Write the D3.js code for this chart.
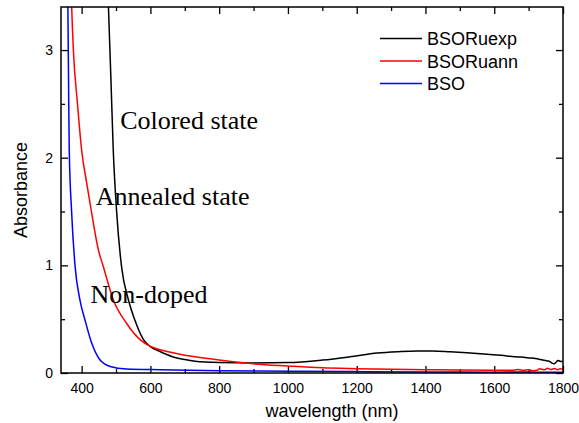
<!DOCTYPE html>
<html>
<head>
<meta charset="utf-8">
<script src="https://cdn.jsdelivr.net/npm/d3@7"></script>
<style>
  body { margin: 0; background: #fff; }
  svg { display: block; }
</style>
</head>
<body>
<svg id="chart" width="579" height="423"></svg>
<script>
// Absorbance spectra: coloured, annealed and non-doped BSO crystals

// series (wavelength nm, absorbance)
const bsoRuExp = [
  [466, 4.6], [478, 3.4], [485, 2.75], [492, 2.07], [502, 1.49], [516, 0.99],
  [536, 0.68], [555, 0.49], [580, 0.31], [600, 0.245], [628, 0.2], [662, 0.154],
  [700, 0.125], [730, 0.11], [800, 0.098], [900, 0.094], [1000, 0.097],
  [1100, 0.12], [1180, 0.15], [1260, 0.185], [1320, 0.198], [1375, 0.205],
  [1420, 0.204], [1470, 0.197], [1520, 0.188], [1570, 0.176], [1620, 0.165],
  [1660, 0.15], [1680, 0.148], [1700, 0.14], [1715, 0.138], [1730, 0.128],
  [1745, 0.118], [1755, 0.112], [1762, 0.105], [1768, 0.092], [1774, 0.085],
  [1780, 0.1], [1785, 0.117], [1790, 0.112], [1795, 0.106], [1800, 0.112]
];
const bsoRuAnn = [
  [362, 4.6], [371, 3.4], [376, 3.0], [388, 2.5], [400, 2.07], [415, 1.76],
  [429, 1.49], [449, 1.14], [463, 0.99], [492, 0.68], [531, 0.46], [570, 0.31],
  [600, 0.247], [628, 0.216], [662, 0.19], [700, 0.165], [730, 0.15],
  [800, 0.12], [900, 0.085], [1000, 0.065], [1100, 0.048], [1200, 0.04],
  [1300, 0.034], [1400, 0.031], [1500, 0.028], [1600, 0.026], [1650, 0.025],
  [1670, 0.032], [1685, 0.024], [1700, 0.03], [1712, 0.022], [1725, 0.026],
  [1732, 0.04], [1745, 0.03], [1755, 0.044], [1765, 0.032], [1775, 0.042],
  [1785, 0.03], [1792, 0.04], [1800, 0.035]
];
const bso = [
  [355, 4.6], [360, 3.4], [362, 2.7], [364, 2.07], [371, 1.49], [381, 0.99],
  [395, 0.68], [410, 0.49], [429, 0.28], [453, 0.123], [483, 0.061],
  [531, 0.037], [628, 0.03], [800, 0.022], [1000, 0.017], [1200, 0.013],
  [1400, 0.01], [1600, 0.008], [1700, 0.01], [1750, 0.006], [1800, 0.006]
];

const seriesNames = ["BSORuexp", "BSORuann", "BSO"];
const seriesData = [bsoRuExp, bsoRuAnn, bso];
const seriesColors = ["#000000", "#ff0000", "#0000ff"];

const xMajor = [400, 600, 800, 1000, 1200, 1400, 1600, 1800];
const xMinor = [500, 700, 900, 1100, 1300, 1500, 1700];
const yMajor = [0, 1, 2, 3];
const yMinor = [0.5, 1.5, 2.5];

const notes = [
  {text: "Colored state", x: 512, y: 2.27},
  {text: "Annealed state", x: 441, y: 1.56},
  {text: "Non-doped", x: 426, y: 0.65}
];

const margin = {top: 7, right: 16, bottom: 50, left: 61};
const width = 579 - margin.left - margin.right;
const height = 423 - margin.top - margin.bottom;

const svg = d3.select("#chart");
const g = svg.append("g").attr("transform", `translate(${margin.left},${margin.top})`);

const x = d3.scaleLinear().domain([340, 1800]).range([0, width]);
const y = d3.scaleLinear().domain([0, 3.4]).range([height, 0]);

g.append("clipPath").attr("id", "plot-clip")
  .append("rect").attr("width", width).attr("height", height);

// axes (ticks pointing inward)
function styleAxis(sel) {
  sel.select(".domain").remove();
  sel.selectAll("line").attr("stroke", "#000").attr("stroke-width", 1.3);
  sel.selectAll("text").attr("font-family", "Liberation Sans, Arial, sans-serif")
    .attr("font-size", 14).attr("fill", "#000");
}

g.append("g").attr("transform", `translate(0,${height})`)
  .call(d3.axisBottom(x).tickValues(xMajor).tickSize(-7).tickPadding(10).tickFormat(d3.format("d")))
  .call(styleAxis);
g.append("g").attr("transform", `translate(0,${height})`)
  .call(d3.axisBottom(x).tickValues(xMinor).tickSize(-4).tickFormat(""))
  .call(styleAxis);
g.append("g")
  .call(d3.axisTop(x).tickValues(xMajor).tickSize(-7).tickFormat(""))
  .call(styleAxis);
g.append("g")
  .call(d3.axisTop(x).tickValues(xMinor).tickSize(-4).tickFormat(""))
  .call(styleAxis);

g.append("g")
  .call(d3.axisLeft(y).tickValues(yMajor).tickSize(-7).tickPadding(8).tickFormat(d3.format("d")))
  .call(styleAxis);
g.append("g")
  .call(d3.axisLeft(y).tickValues(yMinor).tickSize(-4).tickFormat(""))
  .call(styleAxis);
g.append("g").attr("transform", `translate(${width},0)`)
  .call(d3.axisRight(y).tickValues(yMajor).tickSize(-7).tickFormat(""))
  .call(styleAxis);
g.append("g").attr("transform", `translate(${width},0)`)
  .call(d3.axisRight(y).tickValues(yMinor).tickSize(-4).tickFormat(""))
  .call(styleAxis);

// curves
const line = d3.line()
  .x(d => x(d[0]))
  .y(d => y(d[1]))
  .curve(d3.curveMonotoneX);

g.append("g").attr("clip-path", "url(#plot-clip)")
  .selectAll("path")
  .data(seriesData)
  .join("path")
  .attr("d", line)
  .attr("fill", "none")
  .attr("stroke", (d, i) => seriesColors[i])
  .attr("stroke-width", 1.5);

// frame
g.append("rect")
  .attr("width", width).attr("height", height)
  .attr("fill", "none").attr("stroke", "#000").attr("stroke-width", 1.5);

// annotations
g.selectAll(".note")
  .data(notes)
  .join("text")
  .attr("class", "note")
  .attr("x", d => x(d.x))
  .attr("y", d => y(d.y))
  .attr("font-family", "Liberation Serif, Times New Roman, serif")
  .attr("font-size", 26)
  .text(d => d.text);

// axis titles
svg.append("text")
  .attr("transform", `translate(27,${margin.top + height / 2}) rotate(-90)`)
  .attr("text-anchor", "middle")
  .attr("font-family", "Liberation Sans, Arial, sans-serif")
  .attr("font-size", 18)
  .text("Absorbance");

svg.append("text")
  .attr("x", 332)
  .attr("y", 417)
  .attr("text-anchor", "middle")
  .attr("font-family", "Liberation Sans, Arial, sans-serif")
  .attr("font-size", 18)
  .text("wavelength (nm)");

// legend
const legendG = svg.append("g").attr("transform", "translate(380,38.5)");
const lg = legendG.selectAll(".lg")
  .data(seriesNames)
  .join("g")
  .attr("class", "lg")
  .attr("transform", (d, i) => `translate(0,${i * 22.5})`);
lg.append("line")
  .attr("x1", 0).attr("x2", 42)
  .attr("stroke", (d, i) => seriesColors[i]).attr("stroke-width", 1.5);
lg.append("text")
  .attr("x", 47).attr("y", 6.5)
  .attr("font-family", "Liberation Sans, Arial, sans-serif")
  .attr("font-size", 18)
  .text(d => d);
</script>
</body>
</html>
